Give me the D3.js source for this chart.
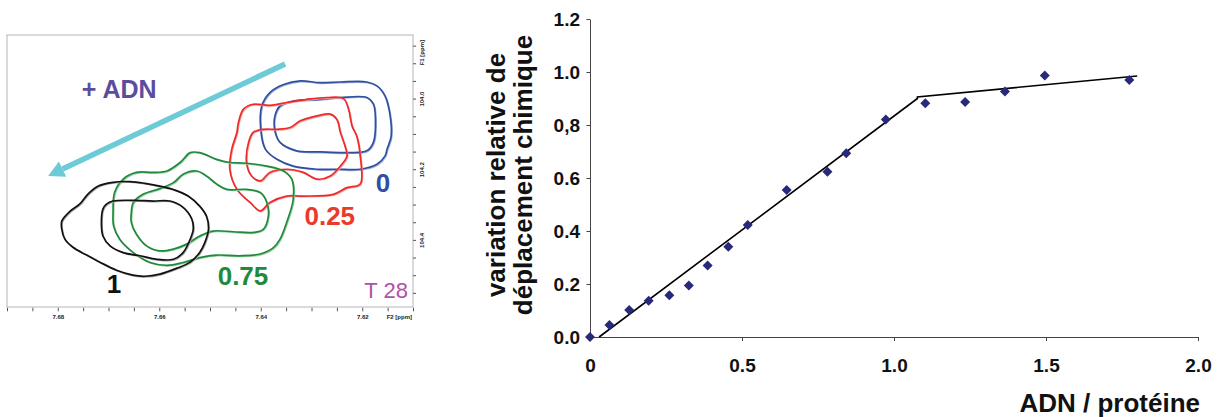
<!DOCTYPE html>
<html>
<head>
<meta charset="utf-8">
<script src="https://cdn.jsdelivr.net/npm/d3@7"></script>
<style>
body{margin:0;background:#fff;}
svg{display:block;font-family:"Liberation Sans",Arial,sans-serif;}
</style>
</head>
<body>
<div id="chart"></div>
<script>

//titration data : DNA / protein ratio and relative chemical shift change
const ratio = [0, 0.064, 0.129, 0.193, 0.261, 0.325, 0.387, 0.455, 0.519, 0.647, 0.781, 0.843, 0.973, 1.103, 1.234, 1.365, 1.496, 1.774];
const shift = [0, 0.045, 0.102, 0.137, 0.158, 0.194, 0.270, 0.341, 0.423, 0.555, 0.624, 0.693, 0.821, 0.882, 0.887, 0.926, 0.987, 0.970];

//two linear fits
const fitX = [0.03, 1.077, 1.077, 1.80];
const fitY = [0, 0.900, 0.906, 0.985];

const yTicks = [0, 0.2, 0.4, 0.6, 0.8, 1.0, 1.2];
const yTickLabels = ["0.0", "0.2", "0.4", "0.6", "0,8", "1.0", "1.2"];
const xTicks = [0, 0.5, 1.0, 1.5, 2.0];
const xTickLabels = ["0", "0.5", "1.0", "1.5", "2.0"];

//HSQC contours, [F2 ppm, F1 ppm]
const blueOuter = [[7.6398,104.021],[7.6382,103.983],[7.6355,103.960],[7.6322,103.950],[7.6283,103.955],[7.6243,103.953],[7.6191,103.953],[7.6171,103.964],[7.6155,103.993],[7.6146,104.040],[7.6143,104.106],[7.6151,104.143],[7.6155,104.162],[7.6171,104.186],[7.6204,104.200],[7.6250,104.200],[7.6289,104.200],[7.6336,104.191],[7.6368,104.172],[7.6391,104.143],[7.6400,104.087]];
const blueInner = [[7.6372,104.049],[7.6362,104.021],[7.6336,104.007],[7.6283,104.002],[7.6243,103.997],[7.6191,103.997],[7.6178,104.016],[7.6174,104.059],[7.6178,104.124],[7.6191,104.148],[7.6230,104.153],[7.6283,104.151],[7.6329,104.148],[7.6362,104.124],[7.6372,104.092]];
const redOuter = [[7.6444,104.068],[7.6434,104.030],[7.6415,104.016],[7.6382,104.019],[7.6349,104.011],[7.6309,104.002],[7.6270,103.997],[7.6237,104.000],[7.6227,104.030],[7.6220,104.078],[7.6211,104.106],[7.6204,104.162],[7.6204,104.242],[7.6230,104.252],[7.6257,104.271],[7.6316,104.276],[7.6349,104.276],[7.6382,104.294],[7.6401,104.318],[7.6421,104.294],[7.6447,104.257],[7.6461,104.200],[7.6457,104.143],[7.6447,104.096]];
const redInner = [[7.6424,104.124],[7.6415,104.096],[7.6395,104.087],[7.6368,104.087],[7.6342,104.082],[7.6322,104.063],[7.6289,104.049],[7.6263,104.044],[7.6250,104.059],[7.6243,104.096],[7.6234,104.134],[7.6230,104.162],[7.6243,104.191],[7.6263,104.219],[7.6289,104.228],[7.6316,104.209],[7.6349,104.200],[7.6382,104.209],[7.6401,104.233],[7.6418,104.219],[7.6428,104.181]];
const greenOuter = [[7.6691,104.322],[7.6688,104.266],[7.6671,104.228],[7.6645,104.209],[7.6612,104.209],[7.6585,104.205],[7.6559,104.181],[7.6539,104.153],[7.6520,104.153],[7.6487,104.172],[7.6461,104.181],[7.6428,104.183],[7.6388,104.191],[7.6355,104.205],[7.6339,104.228],[7.6336,104.285],[7.6349,104.351],[7.6362,104.398],[7.6375,104.422],[7.6401,104.440],[7.6441,104.445],[7.6487,104.443],[7.6520,104.450],[7.6553,104.464],[7.6585,104.472],[7.6618,104.464],[7.6651,104.436],[7.6678,104.398],[7.6690,104.360]];
const greenInner = [[7.6655,104.322],[7.6651,104.294],[7.6632,104.271],[7.6599,104.255],[7.6572,104.238],[7.6553,104.214],[7.6526,104.205],[7.6507,104.219],[7.6487,104.242],[7.6467,104.257],[7.6428,104.257],[7.6401,104.266],[7.6388,104.294],[7.6385,104.332],[7.6395,104.370],[7.6415,104.379],[7.6454,104.377],[7.6494,104.375],[7.6520,104.389],[7.6546,104.412],[7.6572,104.426],[7.6599,104.431],[7.6625,104.417],[7.6645,104.384],[7.6655,104.351]];
const blackOuter = [[7.6792,104.347],[7.6776,104.319],[7.6757,104.299],[7.6741,104.271],[7.6721,104.248],[7.6691,104.237],[7.6658,104.235],[7.6628,104.240],[7.6599,104.248],[7.6569,104.259],[7.6543,104.276],[7.6520,104.305],[7.6507,104.333],[7.6503,104.370],[7.6510,104.407],[7.6520,104.435],[7.6539,104.463],[7.6565,104.480],[7.6599,104.497],[7.6628,104.503],[7.6652,104.500],[7.6684,104.486],[7.6717,104.463],[7.6743,104.443],[7.6770,104.421],[7.6786,104.398],[7.6792,104.370]];
const blackInner = [[7.6711,104.313],[7.6704,104.299],[7.6691,104.290],[7.6651,104.288],[7.6612,104.290],[7.6579,104.290],[7.6553,104.308],[7.6536,104.341],[7.6533,104.370],[7.6539,104.398],[7.6553,104.436],[7.6572,104.455],[7.6605,104.455],[7.6638,104.445],[7.6671,104.436],[7.6697,104.417],[7.6711,104.389],[7.6714,104.351]];

const levels = ["0", "0.25", "0.75", "1"];


let width = 1223;
let height = 417;

let svg = d3.select("#chart")
	.append("svg")
	.attr("width", width)
	.attr("height", height);


/* ---------- left panel : spectra ---------- */

const xN = d3.scaleLinear().domain([7.69, 7.61]).range([7, 413]);
const yN = d3.scaleLinear().domain([103.82, 104.59]).range([35, 307]);

let left = svg.append("g").attr("class", "nmr");

left.append("rect")
	.attr("x", xN(7.69))
	.attr("y", yN(103.82))
	.attr("width", xN(7.61) - xN(7.69))
	.attr("height", yN(104.59) - yN(103.82))
	.attr("fill", "none")
	.attr("stroke", "#b5b5b5")
	.attr("stroke-width", 1);

//F2 axis
const f2Ticks = d3.range(17).map(i => 7.61 + i * 0.005);
const f2Axis = d3.axisBottom(xN)
	.tickValues(f2Ticks)
	.tickSize(3.5)
	.tickFormat(d => (Math.round(d * 1000) % 20 === 0) ? d.toFixed(2) : "");

left.append("g")
	.attr("class", "axis f2")
	.attr("transform", `translate(0,${yN(104.59) + 0.8})`)
	.call(f2Axis);

//F1 axis
const f1Ticks = d3.range(15).map(i => 103.85 + i * 0.05);
const f1Axis = d3.axisRight(yN)
	.tickValues(f1Ticks)
	.tickSize(3)
	.tickFormat(d => (Math.round(d * 100) % 20 === 0) ? d.toFixed(1) : "");

left.append("g")
	.attr("class", "axis f1")
	.attr("transform", `translate(${xN(7.61)},0)`)
	.call(f1Axis);

left.selectAll(".axis .domain").remove();
left.selectAll(".axis line").attr("stroke", "#555");

left.select(".f2").selectAll("text")
	.attr("y", 9)
	.attr("dy", "0.32em")
	.style("font-size", "6px")
	.style("font-weight", "bold")
	.attr("fill", "#222");

left.select(".f1").selectAll("text")
	.attr("transform", "rotate(-90)")
	.attr("x", 0)
	.attr("y", 11)
	.attr("dy", 0)
	.style("text-anchor", "middle")
	.style("font-size", "6px")
	.style("font-weight", "bold")
	.attr("fill", "#222");

left.append("text")
	.attr("x", xN(7.61) - 1)
	.attr("y", yN(104.59) + 12)
	.style("text-anchor", "end")
	.style("font-size", "6px")
	.style("font-weight", "bold")
	.attr("fill", "#222")
	.text("F2 [ppm]");

left.append("text")
	.attr("transform", `translate(${xN(7.61) + 11},${yN(103.87)}) rotate(-90)`)
	.style("text-anchor", "middle")
	.style("font-size", "6px")
	.style("font-weight", "bold")
	.attr("fill", "#222")
	.text("F1 [ppm]");


//contours
const contourLine = d3.line()
	.x(d => xN(d[0]))
	.y(d => yN(d[1]))
	.curve(d3.curveCatmullRomClosed.alpha(0.5));

const contours = [
	{pts: blueOuter, color: "#2f4f9f", light: "#9fb0dc"},
	{pts: blueInner, color: "#2f4f9f", light: "#9fb0dc"},
	{pts: redOuter, color: "#ec2a2a", light: "#f5a0a0"},
	{pts: redInner, color: "#ec2a2a", light: "#f5a0a0"},
	{pts: greenOuter, color: "#1f8a3b", light: "#9bd0a6"},
	{pts: greenInner, color: "#1f8a3b", light: "#9bd0a6"},
	{pts: blackOuter, color: "#111111", light: "#a8a8a8"},
	{pts: blackInner, color: "#111111", light: "#a8a8a8"}
];

contours.forEach((c) => {
	left.append("path")
		.attr("d", contourLine(c.pts))
		.attr("fill", "none")
		.attr("stroke", c.light)
		.attr("stroke-width", 1.2)
		.attr("transform", "translate(0.9,0.9)");
	left.append("path")
		.attr("d", contourLine(c.pts))
		.attr("fill", "none")
		.attr("stroke", c.color)
		.attr("stroke-width", 1.7);
});


//arrow "+ ADN"
const arrowFrom = [7.6352, 103.902];
const arrowTo = [7.6819, 104.219];
let ax1 = xN(arrowFrom[0]), ay1 = yN(arrowFrom[1]);
let ax2 = xN(arrowTo[0]), ay2 = yN(arrowTo[1]);
let ang = Math.atan2(ay2 - ay1, ax2 - ax1);
let headL = 16, headW = 8.5;
let bx = ax2 - headL * Math.cos(ang), by = ay2 - headL * Math.sin(ang);

left.append("line")
	.attr("x1", ax1).attr("y1", ay1)
	.attr("x2", bx).attr("y2", by)
	.attr("stroke", "#6dcbd8")
	.attr("stroke-width", 5.5);

left.append("path")
	.attr("d", d3.line()([
		[ax2, ay2],
		[bx + headW * Math.sin(ang), by - headW * Math.cos(ang)],
		[bx - headW * Math.sin(ang), by + headW * Math.cos(ang)]
	]) + "Z")
	.attr("fill", "#6dcbd8");

left.append("text")
	.attr("x", xN(7.6679))
	.attr("y", yN(103.998))
	.style("text-anchor", "middle")
	.style("font-size", "25px")
	.style("font-weight", "bold")
	.attr("fill", "#5b4c9f")
	.text("+ ADN");

//level labels
const labelPos = [[7.6159, 104.2645], [7.6264, 104.358], [7.6435, 104.528], [7.6689, 104.550]];
const labelColor = ["#2f4f9f", "#ec3a2a", "#1f8a3b", "#111111"];

levels.forEach((t, i) => {
	left.append("text")
		.attr("x", xN(labelPos[i][0]))
		.attr("y", yN(labelPos[i][1]))
		.style("text-anchor", "middle")
		.style("font-size", "26px")
		.style("font-weight", "bold")
		.attr("fill", labelColor[i])
		.text(t);
});

left.append("text")
	.attr("x", xN(7.6110))
	.attr("y", yN(104.5645))
	.style("text-anchor", "end")
	.style("font-size", "22px")
	.attr("fill", "#b050a8")
	.text("T 28");


/* ---------- right panel : titration curve ---------- */

const xScale = d3.scaleLinear().domain([0, 2]).range([590, 1198]);
const yScale = d3.scaleLinear().domain([0, 1.2]).range([337, 19]);

const xAxis = d3.axisBottom(xScale)
	.tickValues(xTicks)
	.tickSize(4)
	.tickSizeOuter(0)
	.tickFormat((d, i) => xTickLabels[i]);

const yAxis = d3.axisLeft(yScale)
	.tickValues(yTicks)
	.tickSize(3.5)
	.tickSizeOuter(0)
	.tickFormat((d, i) => yTickLabels[i]);

svg.append("g")
	.attr("class", "axis x_axis")
	.attr("transform", `translate(0,${yScale(0)})`)
	.call(xAxis);

svg.append("g")
	.attr("class", "axis y_axis")
	.attr("transform", `translate(${xScale(0)},0)`)
	.call(yAxis);

svg.selectAll(".x_axis path, .x_axis line, .y_axis path, .y_axis line")
	.attr("stroke", "#444");

svg.select(".x_axis")
	.selectAll("text")
	.attr("y", 35)
	.attr("dy", 0)
	.style("font-size", "19px")
	.style("font-weight", "bold")
	.attr("fill", "#111");

svg.select(".y_axis")
	.selectAll("text")
	.attr("x", -10)
	.attr("dy", "0.35em")
	.style("font-size", "19px")
	.style("font-weight", "bold")
	.attr("fill", "#111");

//fit line
let fit = d3.line()
	.x((d, i) => xScale(fitX[i]))
	.y((d, i) => yScale(fitY[i]));

svg.append("path")
	.datum(fitX)
	.attr("d", fit)
	.attr("fill", "none")
	.attr("stroke", "#000")
	.attr("stroke-width", 1.6);

//points
svg.selectAll(".pt")
	.data(ratio)
	.enter()
	.append("path")
	.attr("class", "pt")
	.attr("d", d3.symbol().type(d3.symbolSquare).size(50))
	.attr("transform", (d, i) => `translate(${xScale(d)},${yScale(shift[i])}) rotate(45)`)
	.attr("fill", "#262a78");

//titles
svg.append("text")
	.attr("transform", `translate(505,${(yScale(0) + yScale(1.2)) / 2 - 3}) rotate(-90)`)
	.style("text-anchor", "middle")
	.style("font-size", "26px")
	.style("font-weight", "bold")
	.attr("fill", "#111")
	.text("variation relative de");

svg.append("text")
	.attr("transform", `translate(532,${(yScale(0) + yScale(1.2)) / 2 - 3}) rotate(-90)`)
	.style("text-anchor", "middle")
	.style("font-size", "26px")
	.style("font-weight", "bold")
	.attr("fill", "#111")
	.text("déplacement chimique");

svg.append("text")
	.attr("x", 1200)
	.attr("y", 412)
	.style("text-anchor", "end")
	.style("font-size", "26px")
	.style("font-weight", "bold")
	.attr("fill", "#111")
	.text("ADN / protéine");

</script>
</body>
</html>
